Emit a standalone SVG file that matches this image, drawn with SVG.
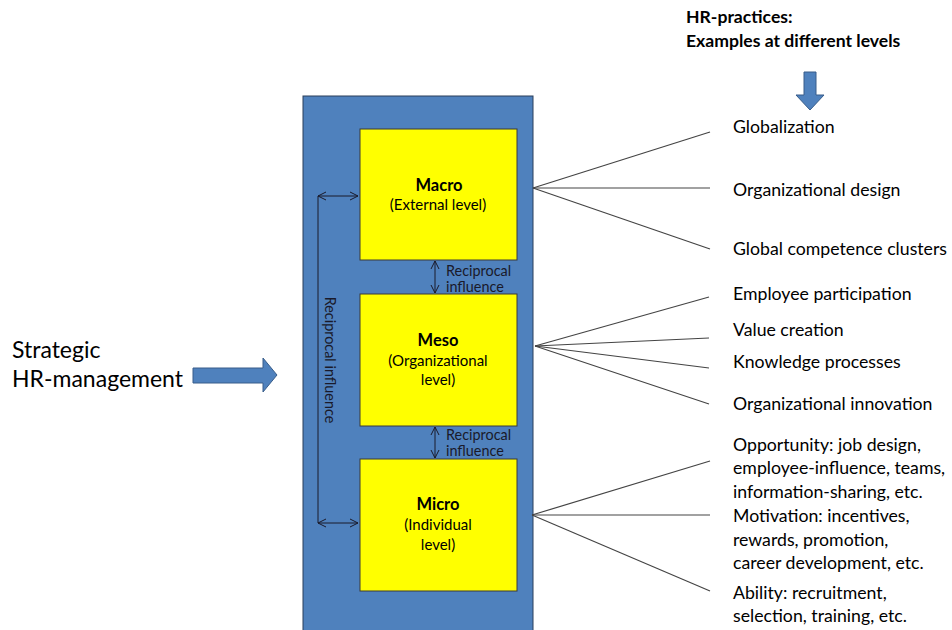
<svg xmlns="http://www.w3.org/2000/svg" width="952" height="630" viewBox="0 0 952 630">
<defs>
<style>
text{font-family:Lato,"Liberation Sans",sans-serif;fill:#000}
.box{fill:#ffff00;stroke:#3a3a3a;stroke-width:1}
.t{font-size:15px;text-anchor:middle}
.tb{font-size:16.5px;text-anchor:middle;font-weight:bold}
.r{font-size:17.7px}
.s{font-size:14.4px;fill:#1a1a2a}
.c{stroke:#444;stroke-width:1.2;fill:none}
.a{stroke:#1a1a2a;stroke-width:1;fill:none;marker-start:url(#h);marker-end:url(#h)}
.fat{fill:#4f81bd;stroke:#385d8a;stroke-width:1}
</style>
<marker id="h" viewBox="0 0 10 10" refX="9" refY="5" markerWidth="10" markerHeight="10" markerUnits="userSpaceOnUse" orient="auto-start-reverse">
<path d="M1,1 L9,5 L1,9" fill="none" stroke="#1a1a2a" stroke-width="1"/>
</marker>
</defs>
<rect x="0" y="0" width="952" height="630" fill="#fff"/>
<g id="container">
<rect x="303" y="96" width="230" height="540" fill="#4f81bd" stroke="#2a3f5a" stroke-width="1"/>
</g>
<g id="connectors">
<line class="c" x1="533" y1="188" x2="710" y2="132"/>
<line class="c" x1="533" y1="188" x2="710" y2="188" stroke="#000"/>
<line class="c" x1="533" y1="188" x2="710" y2="249"/>
<line class="c" x1="535" y1="346" x2="709" y2="297"/>
<line class="c" x1="535" y1="346" x2="709" y2="338"/>
<line class="c" x1="535" y1="346" x2="709" y2="368"/>
<line class="c" x1="535" y1="346" x2="709" y2="404"/>
<line class="c" x1="532" y1="515" x2="710" y2="461"/>
<line class="c" x1="532" y1="515" x2="710" y2="515"/>
<line class="c" x1="532" y1="515" x2="710" y2="591"/>
<line class="a" x1="435" y1="261" x2="435" y2="293"/>
<line class="a" x1="435" y1="427" x2="435" y2="458"/>
<polyline points="318,196 318,523" fill="none" stroke="#1a1a2a" stroke-width="1"/>
<line class="a" x1="318" y1="196" x2="358" y2="196"/>
<line class="a" x1="318" y1="523" x2="358" y2="523"/>
</g>
<g id="macro">
<rect class="box" x="360" y="129" width="157" height="131"/>
<text class="tb" x="439" y="191">Macro</text>
<text class="t" x="438" y="210">(External level)</text>
</g>
<g id="meso">
<rect class="box" x="360" y="294" width="157" height="132"/>
<text class="tb" x="438" y="346">Meso</text>
<text class="t" x="438" y="366">(Organizational</text>
<text class="t" x="438" y="385">level)</text>
</g>
<g id="micro">
<rect class="box" x="360" y="459" width="157" height="132"/>
<text class="tb" x="438" y="510">Micro</text>
<text class="t" x="438" y="530">(Individual</text>
<text class="t" x="438" y="550">level)</text>
</g>
<g id="labels-recip">
<text class="s" x="446" y="276">Reciprocal</text>
<text class="s" x="446" y="292">influence</text>
<text class="s" x="446" y="440">Reciprocal</text>
<text class="s" x="446" y="456">influence</text>
<text class="s" transform="translate(325,360) rotate(90)" text-anchor="middle">Reciprocal influence</text>
</g>
<g id="strategic">
<text x="12" y="358" font-size="23">Strategic</text>
<text x="12" y="387" font-size="23">HR-management</text>
<path class="fat" d="M193,368 H263 V358 L277,375 L263,392 V383 H193 Z"/>
</g>
<g id="hr-practices">
<text x="686" y="23" font-size="17.6" font-weight="bold">HR-practices:</text>
<text x="686" y="47" font-size="17.6" font-weight="bold">Examples at different levels</text>
<path class="fat" d="M804,72 H816 V95 H824 L810,110 L796,95 H804 Z"/>
</g>
<g id="macro-practices">
<text class="r" x="733" y="133">Globalization</text>
<text class="r" x="733" y="196">Organizational design</text>
<text class="r" x="733" y="255">Global competence clusters</text>
</g>
<g id="meso-practices">
<text class="r" x="733" y="300">Employee participation</text>
<text class="r" x="733" y="336">Value creation</text>
<text class="r" x="733" y="368">Knowledge processes</text>
<text class="r" x="733" y="410">Organizational innovation</text>
</g>
<g id="micro-practices">
<text class="r" x="733" y="451">Opportunity: job design,</text>
<text class="r" x="733" y="474">employee-influence, teams,</text>
<text class="r" x="733" y="498">information-sharing, etc.</text>
<text class="r" x="733" y="522">Motivation: incentives,</text>
<text class="r" x="733" y="546">rewards, promotion,</text>
<text class="r" x="733" y="569">career development, etc.</text>
<text class="r" x="733" y="599">Ability: recruitment,</text>
<text class="r" x="733" y="622">selection, training, etc.</text>
</g>
</svg>
